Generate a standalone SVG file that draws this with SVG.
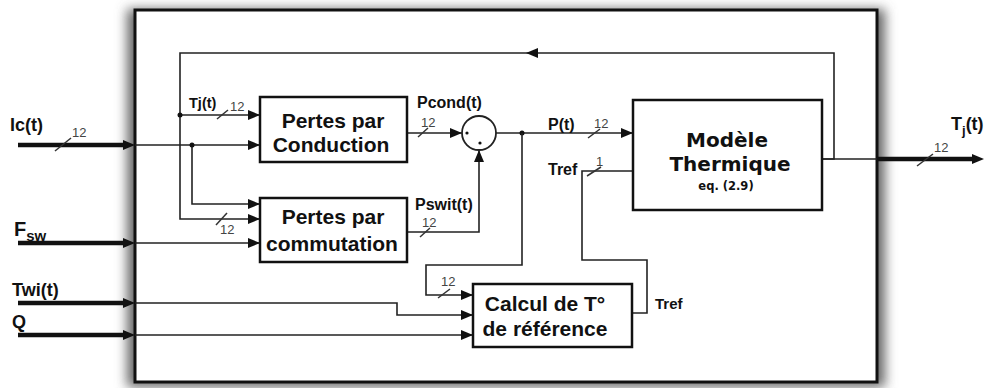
<svg xmlns="http://www.w3.org/2000/svg" width="984" height="388" viewBox="0 0 984 388">
<defs>
<filter id="sh" x="-10%" y="-10%" width="120%" height="120%"><feGaussianBlur stdDeviation="6"/></filter>
<marker id="ah" markerUnits="userSpaceOnUse" markerWidth="12" markerHeight="10" refX="12" refY="5" orient="auto"><path d="M0,0 L12,5 L0,10 Z" fill="#111"/></marker>
<style>
.box{fill:#fff;stroke:#111;stroke-width:2.5}
.ln{fill:none;stroke:#222;stroke-width:1.6}
.thk{fill:none;stroke:#111;stroke-width:4.5}
.sl{stroke:#333;stroke-width:1.5}
.bt{font-family:"Liberation Sans",Arial,sans-serif;font-weight:bold;fill:#111;text-anchor:middle}
.dv{font-family:"DejaVu Sans",sans-serif;font-weight:bold;fill:#111;text-anchor:middle}
.lb{font-family:"Liberation Sans",Arial,sans-serif;font-weight:bold;fill:#111}
.n{font-family:"Liberation Sans",Arial,sans-serif;font-size:13px;fill:#444}
.dot{fill:#111}
</style>
</defs>
<rect width="984" height="388" fill="#fff"/>
<g id="outer">
<rect x="127" y="9" width="758" height="378" fill="#666" filter="url(#sh)"/>
<rect x="135" y="10" width="742" height="372" fill="#fff" stroke="#111" stroke-width="3"/>
</g>
<g id="connectors">
<line class="thk" x1="18" y1="145" x2="128" y2="145"/>
<path d="M123,140 L135,145 L123,150 Z" fill="#111"/>
<line class="thk" x1="18" y1="243" x2="128" y2="243"/>
<path d="M123,238 L135,243 L123,248 Z" fill="#111"/>
<line class="thk" x1="18" y1="303" x2="128" y2="303"/>
<path d="M123,298 L135,303 L123,308 Z" fill="#111"/>
<line class="thk" x1="18" y1="335" x2="128" y2="335"/>
<path d="M123,330 L135,335 L123,340 Z" fill="#111"/>
<line class="sl" x1="55" y1="151" x2="71" y2="138"/>
<line class="ln" x1="135" y1="145" x2="260" y2="145" marker-end="url(#ah)"/>
<path class="ln" d="M192,145 V204 H260" marker-end="url(#ah)"/>
<circle class="dot" cx="192" cy="145" r="2.5"/>
<path class="ln" d="M822,159 H834 V53 H180 V219 H260" marker-end="url(#ah)"/>
<path d="M538,48 L526,53 L538,58 Z" fill="#111"/>
<line class="ln" x1="180" y1="115" x2="260" y2="115" marker-end="url(#ah)"/>
<circle class="dot" cx="180" cy="115" r="2.5"/>
<line class="sl" x1="217" y1="119" x2="228" y2="110"/>
<line class="sl" x1="216" y1="225" x2="227" y2="213"/>
<line class="ln" x1="135" y1="243" x2="260" y2="243" marker-end="url(#ah)"/>
<line class="ln" x1="407" y1="133" x2="462" y2="133" marker-end="url(#ah)"/>
<line class="sl" x1="418" y1="137" x2="428" y2="128"/>
<path class="ln" d="M407,232 H479 V150" marker-end="url(#ah)"/>
<line class="sl" x1="420" y1="237" x2="430" y2="228"/>
<line class="ln" x1="496" y1="133" x2="633" y2="133" marker-end="url(#ah)"/>
<circle class="dot" cx="522" cy="133" r="2.5"/>
<line class="sl" x1="588" y1="138" x2="600" y2="129"/>
<path class="ln" d="M522,133 V265 H426 V295 H473" marker-end="url(#ah)"/>
<line class="sl" x1="438" y1="298" x2="450" y2="289"/>
<path class="ln" d="M135,303 H397 V315 H473" marker-end="url(#ah)"/>
<line class="ln" x1="135" y1="335" x2="473" y2="335" marker-end="url(#ah)"/>
<path class="ln" d="M632,313 H647 V260 H582 V171 H633"/>
<line class="sl" x1="587" y1="176" x2="601" y2="167"/>
<line class="ln" x1="822" y1="159" x2="877" y2="159"/>
<line class="thk" x1="877" y1="159" x2="976" y2="159"/>
<path d="M972,154 L984,159 L972,164 Z" fill="#111"/>
<line class="sl" x1="917" y1="166" x2="933" y2="154"/>
</g>
<g id="sum">
<circle cx="479" cy="133" r="17" fill="#fff" stroke="#222" stroke-width="1.8"/>
<circle class="dot" cx="467" cy="133" r="1.6"/>
<circle class="dot" cx="480" cy="143" r="1.6"/>
</g>
<g id="conduction">
<rect class="box" x="260" y="97" width="147" height="65"/>
<text class="bt" x="333" y="128" font-size="21">Pertes par</text>
<text class="bt" x="331" y="152" font-size="21">Conduction</text>
</g>
<g id="commutation">
<rect class="box" x="260" y="198" width="147" height="64"/>
<text class="bt" x="333" y="224" font-size="21">Pertes par</text>
<text class="bt" x="332" y="251" font-size="21">commutation</text>
</g>
<g id="thermique">
<rect class="box" x="633" y="100" width="189" height="110"/>
<text class="dv" x="727" y="147" font-size="20">Modèle</text>
<text class="dv" x="730" y="171" font-size="20">Thermique</text>
<text class="dv" x="726" y="190" font-size="11.5">eq. (2.9)</text>
</g>
<g id="calcul">
<rect class="box" x="473" y="284" width="159" height="63"/>
<text class="bt" x="545" y="311" font-size="21">Calcul de T°</text>
<text class="bt" x="545" y="336" font-size="21">de référence</text>
</g>
<g id="labels">
<text class="lb" x="10" y="131" font-size="18">Ic(t)</text>
<text class="lb" x="14" y="236" font-size="20">F<tspan font-size="15" dy="5">sw</tspan></text>
<text class="lb" x="12" y="296" font-size="18">Twi(t)</text>
<text class="lb" x="12" y="328" font-size="18">Q</text>
<text class="lb" x="189" y="108" font-size="14.5">Tj(t)</text>
<text class="lb" x="417" y="108" font-size="16">Pcond(t)</text>
<text class="lb" x="415" y="210" font-size="16">Pswit(t)</text>
<text class="lb" x="548" y="130" font-size="16">P(t)</text>
<text class="lb" x="548" y="175" font-size="16">Tref</text>
<text class="lb" x="655" y="309" font-size="15">Tref</text>
<text class="lb" x="951" y="130" font-size="18">T<tspan font-size="13" dy="5">j</tspan><tspan dy="-5">(t)</tspan></text>
<text class="n" x="72" y="137">12</text>
<text class="n" x="230" y="111">12</text>
<text class="n" x="220" y="234">12</text>
<text class="n" x="421" y="127">12</text>
<text class="n" x="422" y="227">12</text>
<text class="n" x="594" y="128">12</text>
<text class="n" x="441" y="286">12</text>
<text class="n" x="596" y="166">1</text>
<text class="n" x="934" y="152">12</text>
</g>
</svg>
